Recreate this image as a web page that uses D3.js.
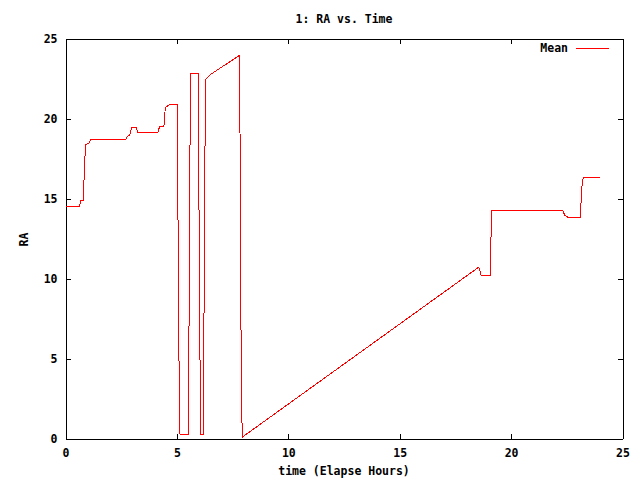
<!DOCTYPE html>
<html><head><meta charset="utf-8">
<script src="https://cdn.jsdelivr.net/npm/d3@7"></script>
<style>
body{margin:0;background:#fff}
text{font-family:"DejaVu Sans Mono",monospace;font-weight:bold;font-size:11.5px;fill:#000}
</style>
</head><body>
<svg id="chart" width="640" height="480"></svg>
<script>
// ---- data ----
const times = [0, 0.64, 0.67, 0.80, 0.82, 0.87, 0.91, 1.06, 1.14, 2.71, 2.77, 2.89, 2.98, 3.16, 3.25,
  4.14, 4.22, 4.41, 4.46, 4.47, 4.56, 4.67, 5.04, 5.04, 5.09, 5.14, 5.54, 5.54, 5.58, 5.62,
  5.98, 5.98, 6.03, 6.07, 6.21, 6.21, 6.25, 6.30, 6.51, 7.80, 7.84, 7.88, 7.93, 18.55, 18.66,
  19.06, 19.07, 19.11, 19.14, 22.32, 22.37, 22.41, 22.59, 23.13, 23.13, 23.17, 23.24, 23.98];
const raMean = [14.5, 14.5, 14.85, 14.85, 15.77, 17.5, 18.35, 18.48, 18.69, 18.69, 18.85, 19.0, 19.46, 19.46, 19.12,
  19.12, 19.48, 19.48, 20.06, 20.64, 20.77, 20.85, 20.85, 15.7, 5.4, 0.25, 0.25, 5.9, 17.1, 22.8,
  22.8, 17.1, 5.9, 0.25, 0.25, 5.8, 16.96, 22.44, 22.75, 23.94, 17.96, 6.0, 0.08, 10.71, 10.19,
  10.19, 11.19, 13.21, 14.23, 14.23, 14.08, 13.94, 13.79, 13.79, 14.44, 15.67, 16.31, 16.31];
const xTicks = [0, 5, 10, 15, 20, 25];
const yTicks = [0, 5, 10, 15, 20, 25];
const titleText = "1: RA vs. Time";
const xLabel = "time (Elapse Hours)";
const yLabel = "RA";
const seriesName = "Mean";

// ---- layout ----
const L = 65.5, R = 622.5, T = 38.5, B = 438.5;
const svg = d3.select("#chart");
const x = d3.scaleLinear().domain([0, 25]).range([L, R]);
const y = d3.scaleLinear().domain([0, 25]).range([B, T]);

function styleAxis(g){
  g.selectAll("path,line").attr("stroke","#000").attr("stroke-width",1).attr("shape-rendering","crispEdges");
  g.selectAll("text").attr("font-family",null).attr("font-size",null).style("fill","#000");
}

svg.append("g").attr("transform",`translate(0,${B})`)
  .call(d3.axisBottom(x).tickValues(xTicks).tickFormat(d3.format("d")).tickSizeInner(-5).tickSizeOuter(0).tickPadding(10))
  .call(styleAxis).attr("font-family",null).attr("font-size",null);
svg.append("g").attr("transform",`translate(0,${T})`)
  .call(d3.axisTop(x).tickValues(xTicks.slice(1,-1)).tickFormat("").tickSizeInner(-5).tickSizeOuter(0))
  .call(styleAxis);
svg.append("g").attr("transform",`translate(${L},0)`)
  .call(d3.axisLeft(y).tickValues(yTicks).tickFormat(d3.format("d")).tickSizeInner(-5).tickSizeOuter(0).tickPadding(8))
  .call(styleAxis).attr("font-family",null).attr("font-size",null);
svg.append("g").attr("transform",`translate(${R},0)`)
  .call(d3.axisRight(y).tickValues(yTicks.slice(1,-1)).tickFormat("").tickSizeInner(-5).tickSizeOuter(0))
  .call(styleAxis);

// data line
const pts = times.map((t,i)=>[t, raMean[i]]);
svg.append("path").datum(pts)
  .attr("fill","none").attr("stroke","#ff0000").attr("stroke-width",1)
  .attr("shape-rendering","crispEdges")
  .attr("d", d3.line().x(d=>x(d[0])).y(d=>y(d[1])));

// texts
svg.append("text").attr("x",(L+R)/2).attr("y",23).attr("text-anchor","middle").text(titleText);
svg.append("text").attr("x",(L+R)/2).attr("y",475).attr("text-anchor","middle").text(xLabel);
svg.append("text").attr("transform","translate(28,239.5) rotate(-90)").attr("text-anchor","middle").text(yLabel);

// legend
svg.append("text").attr("x",568).attr("y",52).attr("text-anchor","end").text(seriesName);
svg.append("line").attr("x1",576).attr("x2",609).attr("y1",48.5).attr("y2",48.5)
  .attr("stroke","#ff0000").attr("stroke-width",1).attr("shape-rendering","crispEdges");
</script>
</body></html>
